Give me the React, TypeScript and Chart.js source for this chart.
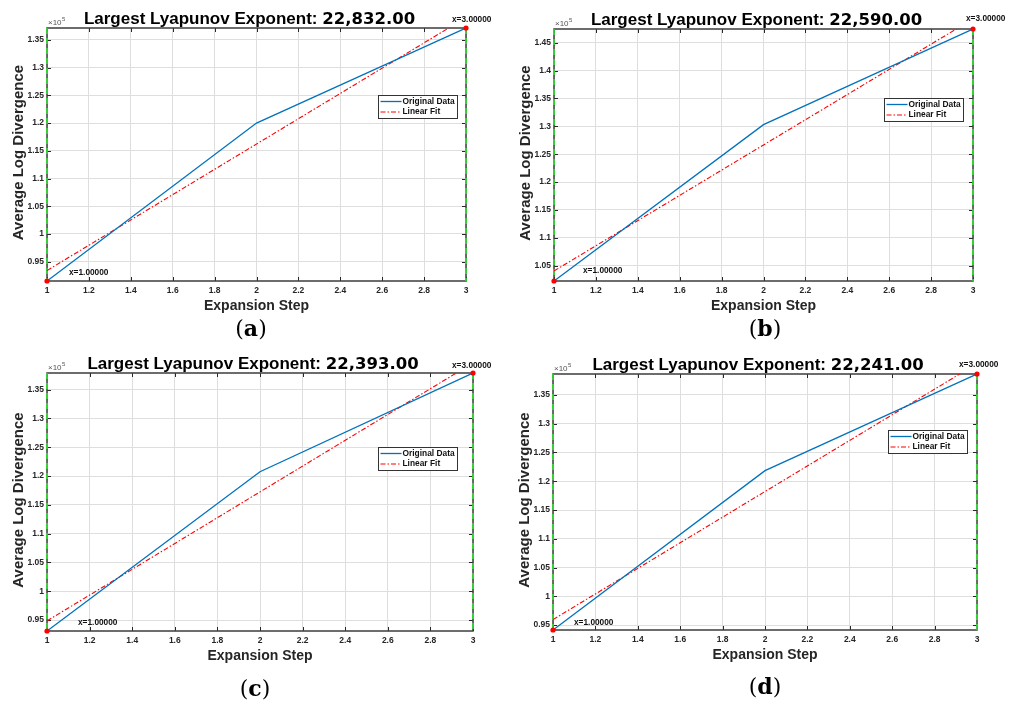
import React, { useEffect, useRef } from "react";
import { Chart, registerables } from "chart.js";

Chart.register(...registerables);
Chart.defaults.font.family = '"Liberation Sans", Arial, sans-serif';

// ---------------- data ----------------
const stepsOriginal = [1, 2, 3];
const stepsFit = [1, 3];
const exponentLabels = ["22,832.00", "22,590.00", "22,393.00", "22,241.00"];
const panelLetters = ["a", "b", "c", "d"];
const seriesNames = ["Original Data", "Linear Fit"];

const originalA = [91500, 120000, 137164];
const fitA = [93389, 139053];
const originalB = [102270, 130300, 147450];
const fitB = [104070, 149250];
const originalC = [93100, 120750, 137886];
const fitC = [94852, 139638];
const originalD = [94150, 121840, 138632];
const fitD = [95966, 140448];

const xTickValues = [1, 1.2, 1.4, 1.6, 1.8, 2, 2.2, 2.4, 2.6, 2.8, 3];
const yTickValues = [90000, 95000, 100000, 105000, 110000, 115000, 120000, 125000, 130000, 135000, 140000, 145000, 150000];
const endLabels = ["x=1.00000", "x=3.00000"];

// ---------------- layout (pixels, page coordinates) ----------------
type Panel = {
  ox: number; oy: number; w: number; h: number;
  L: number; R: number; T: number; B: number;
  orig: number[]; fit: number[]; exp: string; letter: string;
  legend: { x: number; y: number };
  lab1: { dx: number; dy: number };
  lab3: { dx: number; dy: number };
  letterPos: { x: number; y: number };
};

const PANELS: Panel[] = [
  { ox: 0, oy: 0, w: 508, h: 340, L: 47, R: 466, T: 28, B: 281, orig: originalA, fit: fitA, exp: exponentLabels[0], letter: panelLetters[0],
    legend: { x: 378, y: 95 }, lab1: { dx: 22, dy: -8 }, lab3: { dx: -14, dy: -8 }, letterPos: { x: 251, y: 328 } },
  { ox: 508, oy: 0, w: 509, h: 340, L: 554, R: 973, T: 29, B: 281, orig: originalB, fit: fitB, exp: exponentLabels[1], letter: panelLetters[1],
    legend: { x: 884, y: 98 }, lab1: { dx: 29, dy: -10 }, lab3: { dx: -7, dy: -10 }, letterPos: { x: 765, y: 328 } },
  { ox: 0, oy: 340, w: 508, h: 364, L: 47, R: 473, T: 373, B: 631, orig: originalC, fit: fitC, exp: exponentLabels[2], letter: panelLetters[2],
    legend: { x: 378, y: 447 }, lab1: { dx: 31, dy: -8 }, lab3: { dx: -21, dy: -7 }, letterPos: { x: 255, y: 688 } },
  { ox: 508, oy: 340, w: 509, h: 364, L: 553, R: 977, T: 374, B: 630, orig: originalD, fit: fitD, exp: exponentLabels[3], letter: panelLetters[3],
    legend: { x: 888, y: 430 }, lab1: { dx: 21, dy: -7 }, lab3: { dx: -18, dy: -9 }, letterPos: { x: 765, y: 686 } },
];

const XH = 20;
const AXIS_TEXT = "#262626";
const GRID = "#dedede";
const BLUE = "#0072BD";
const RED = "#ff0000";
const GREEN = "#2ee82e";
const FIT_DASH = [5, 2, 1.5, 2];

function makeDecor(p: Panel) {
  return {
    id: "decor" + p.letter,
    beforeDatasetsDraw(chart: any) {
      const { ctx, chartArea: a, scales } = chart;
      ctx.save();
      // inner tick marks
      ctx.strokeStyle = AXIS_TEXT;
      ctx.lineWidth = 1;
      ctx.beginPath();
      for (const t of scales.x.ticks) {
        const px = Math.round(scales.x.getPixelForValue(t.value)) + 0.5;
        ctx.moveTo(px, a.bottom); ctx.lineTo(px, a.bottom - 4);
        ctx.moveTo(px, a.top); ctx.lineTo(px, a.top + 4);
      }
      for (const t of scales.y.ticks) {
        const py = Math.round(scales.y.getPixelForValue(t.value)) + 0.5;
        ctx.moveTo(a.left, py); ctx.lineTo(a.left + 4, py);
        ctx.moveTo(a.right, py); ctx.lineTo(a.right - 4, py);
      }
      ctx.stroke();
      // box
      ctx.strokeStyle = "#3c3c3c";
      ctx.lineWidth = 1.5;
      ctx.strokeRect(a.left, a.top, a.right - a.left, a.bottom - a.top);
      // green dashed vertical lines at x=1 and x=3
      ctx.strokeStyle = GREEN;
      ctx.lineWidth = 1.6;
      ctx.setLineDash([6, 4]);
      ctx.beginPath();
      ctx.moveTo(a.left, a.top); ctx.lineTo(a.left, a.bottom);
      ctx.moveTo(a.right, a.top); ctx.lineTo(a.right, a.bottom);
      ctx.stroke();
      ctx.restore();
    },
    afterDatasetsDraw(chart: any) {
      const { ctx, chartArea: a, scales } = chart;
      ctx.save();
      // title
      const f1 = 'bold 17px "Liberation Sans", Arial, sans-serif';
      const f2 = 'bold 16.5px "DejaVu Sans", sans-serif';
      const t1 = "Largest Lyapunov Exponent: ";
      ctx.font = f1; const w1 = ctx.measureText(t1).width;
      ctx.font = f2; const w2 = ctx.measureText(p.exp).width;
      const cx = (a.left + a.right) / 2 - 7;
      const x0 = cx - (w1 + w2) / 2;
      const by = a.top - 4.5;
      ctx.fillStyle = "#000";
      ctx.textBaseline = "alphabetic";
      ctx.textAlign = "left";
      ctx.font = f1; ctx.fillText(t1, x0, by);
      ctx.font = f2; ctx.fillText(p.exp, x0 + w1, by);
      // x10^5
      ctx.fillStyle = "#555";
      ctx.font = '8px "Liberation Sans", Arial, sans-serif';
      ctx.fillText("\u00d710", a.left + 1, a.top - 3);
      const wx = ctx.measureText("\u00d710").width;
      ctx.font = '6px "Liberation Sans", Arial, sans-serif';
      ctx.fillText("5", a.left + 1 + wx + 0.5, a.top - 7);
      // axis titles
      ctx.fillStyle = AXIS_TEXT;
      ctx.font = 'bold 14px "Liberation Sans", Arial, sans-serif';
      ctx.textAlign = "center";
      ctx.textBaseline = "middle";
      ctx.fillText("Expansion Step", (a.left + a.right) / 2, a.bottom + 25);
      ctx.save();
      ctx.font = 'bold 15px "Liberation Sans", Arial, sans-serif';
      ctx.translate(a.left - 28.5, (a.top + a.bottom) / 2 - 2);
      ctx.rotate(-Math.PI / 2);
      ctx.fillText("Average Log Divergence", 0, 0);
      ctx.restore();
      // end labels
      ctx.fillStyle = "#111";
      ctx.font = 'bold 8.3px "Liberation Sans", Arial, sans-serif';
      ctx.textAlign = "left";
      ctx.textBaseline = "middle";
      const p1x = scales.x.getPixelForValue(stepsOriginal[0]);
      const p1y = scales.y.getPixelForValue(p.orig[0]);
      const p3x = scales.x.getPixelForValue(stepsOriginal[2]);
      const p3y = scales.y.getPixelForValue(p.orig[2]);
      ctx.fillText(endLabels[0], p1x + p.lab1.dx, p1y + p.lab1.dy);
      ctx.fillText(endLabels[1], p3x + p.lab3.dx, p3y + p.lab3.dy);
      // legend
      const lx = p.legend.x - p.ox + 0.5;
      const ly = p.legend.y - p.oy + 0.5;
      const lw = 79, lh = 23;
      ctx.fillStyle = "#fff";
      ctx.fillRect(lx, ly, lw, lh);
      ctx.strokeStyle = "#333";
      ctx.lineWidth = 1;
      ctx.strokeRect(lx, ly, lw, lh);
      const rows = [ly + 6, ly + 16.5];
      ctx.lineWidth = 1.3;
      ctx.strokeStyle = BLUE;
      ctx.beginPath(); ctx.moveTo(lx + 2, rows[0]); ctx.lineTo(lx + 23, rows[0]); ctx.stroke();
      ctx.strokeStyle = RED;
      ctx.lineWidth = 1.1;
      ctx.setLineDash(FIT_DASH);
      ctx.beginPath(); ctx.moveTo(lx + 2, rows[1]); ctx.lineTo(lx + 23, rows[1]); ctx.stroke();
      ctx.setLineDash([]);
      ctx.fillStyle = "#111";
      ctx.font = 'bold 8.4px "Liberation Sans", Arial, sans-serif';
      ctx.fillText(seriesNames[0], lx + 24, rows[0]);
      ctx.fillText(seriesNames[1], lx + 24, rows[1]);
      ctx.restore();
    },
  };
}

function PanelChart({ p }: { p: Panel }) {
  const ref = useRef<HTMLCanvasElement>(null);
  useEffect(() => {
    if (!ref.current) return;
    const tickFont = { size: 8.5, weight: "bold" as const };
    const yMin = p.orig[0];
    const yMax = p.orig[2];
    const chart = new Chart(ref.current, {
      type: "line",
      data: {
        datasets: [
          {
            label: seriesNames[0],
            data: stepsOriginal.map((x, i) => ({ x, y: p.orig[i] })),
            borderColor: BLUE, borderWidth: 1.3, pointRadius: 0, tension: 0, order: 1,
          },
          {
            label: seriesNames[1],
            data: stepsFit.map((x, i) => ({ x, y: p.fit[i] })),
            borderColor: RED, borderWidth: 1.1, borderDash: FIT_DASH, pointRadius: 0, tension: 0, order: 2,
          },
          {
            label: "ends",
            data: [
              { x: stepsOriginal[0], y: p.orig[0] },
              { x: stepsOriginal[2], y: p.orig[2] },
            ],
            showLine: false, pointRadius: 2.6, pointBackgroundColor: RED, pointBorderWidth: 0,
            borderColor: RED, clip: false as any, order: 0,
          },
        ],
      },
      options: {
        animation: false,
        responsive: false,
        maintainAspectRatio: false,
        events: [],
        layout: { padding: { left: 0, top: p.T - p.oy, right: p.ox + p.w - p.R, bottom: p.oy + p.h - p.B - XH } },
        plugins: { legend: { display: false }, title: { display: false }, tooltip: { enabled: false } },
        scales: {
          x: {
            type: "linear", min: stepsOriginal[0], max: stepsOriginal[2],
            ticks: {
              autoSkip: false, maxRotation: 0, padding: 5,
              font: tickFont, color: AXIS_TEXT,
              callback: (v: any) => String(Math.round(Number(v) * 10) / 10),
            },
            afterBuildTicks: (s: any) => { s.ticks = xTickValues.map((v) => ({ value: v })); },
            grid: { color: GRID, drawTicks: false, lineWidth: 1 },
            border: { display: false },
            afterFit: (s: any) => { s.height = XH; },
          },
          y: {
            type: "linear", min: yMin, max: yMax,
            ticks: {
              autoSkip: false, padding: 3,
              font: tickFont, color: AXIS_TEXT,
              callback: (v: any) => String(Math.round(Number(v) / 1000) / 100),
            },
            afterBuildTicks: (s: any) => {
              s.ticks = yTickValues.filter((v) => v >= yMin && v <= yMax).map((v) => ({ value: v }));
            },
            grid: { color: GRID, drawTicks: false, lineWidth: 1 },
            border: { display: false },
            afterFit: (s: any) => { s.width = p.L - p.ox; },
          },
        },
      },
      plugins: [makeDecor(p)],
    } as any);
    return () => chart.destroy();
  }, [p]);
  return (
    <canvas
      ref={ref}
      width={p.w}
      height={p.h}
      style={{ position: "absolute", left: p.ox, top: p.oy, width: p.w, height: p.h, display: "block" }}
    />
  );
}

export default function App() {
  return (
    <div style={{ position: "absolute", left: 0, top: 0, width: 1017, height: 704, background: "#fff", overflow: "hidden" }}>
      {PANELS.map((p) => (
        <PanelChart key={p.letter} p={p} />
      ))}
      {PANELS.map((p) => (
        <div
          key={"lbl" + p.letter}
          style={{
            position: "absolute", left: p.letterPos.x - 40, top: p.letterPos.y - 15, width: 80, height: 30,
            textAlign: "center", font: '22px "DejaVu Serif", serif', lineHeight: "30px", color: "#000",
          }}
        >
          (<b>{p.letter}</b>)
        </div>
      ))}
    </div>
  );
}
